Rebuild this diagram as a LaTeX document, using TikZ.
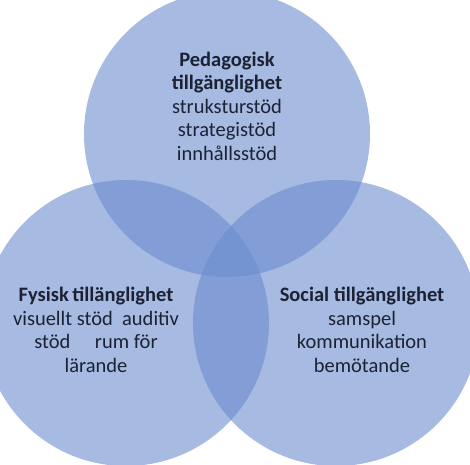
\documentclass[tikz,border=0pt]{standalone}
\usepackage{fontspec}
\setmainfont{Carlito}
\usetikzlibrary{positioning}
\definecolor{vennblue}{RGB}{107,140,206}
\definecolor{venntext}{RGB}{28,34,52}

\begin{document}
\begin{tikzpicture}[x=1pt, y=-1pt,
        venn/.style={circle, minimum size=286pt, inner sep=0pt, fill=vennblue, fill opacity=0.6},
        desc/.style={align=center, text=venntext, font=\fontsize{20.5}{23.5}\selectfont}]
        \useasboundingbox (0,0) rectangle (470,464);

        \node[venn] (pedagogisk) at (227,134) {};
        \node[venn] (fysisk) at (126,323) {};
        \node[venn] (social) at (336,323) {};

        \node[desc] (pedagogisk_desc) at (227,106) {\bfseries Pedagogisk\\ \bfseries tillgänglighet\\ struksturstöd\\ strategistöd\\ innhållsstöd};
        \node[desc] (fysisk_desc) at (96,330) {\bfseries Fysisk\,tillänglighet\\ visuellt stöd\ \ auditiv\\ stöd\hspace{1.2em}rum för\\ lärande};
        \node[desc] (social_desc) at (362,330) {\bfseries Social tillgänglighet\\ samspel\\ kommunikation\\ bemötande};
    \end{tikzpicture}
\end{document}
